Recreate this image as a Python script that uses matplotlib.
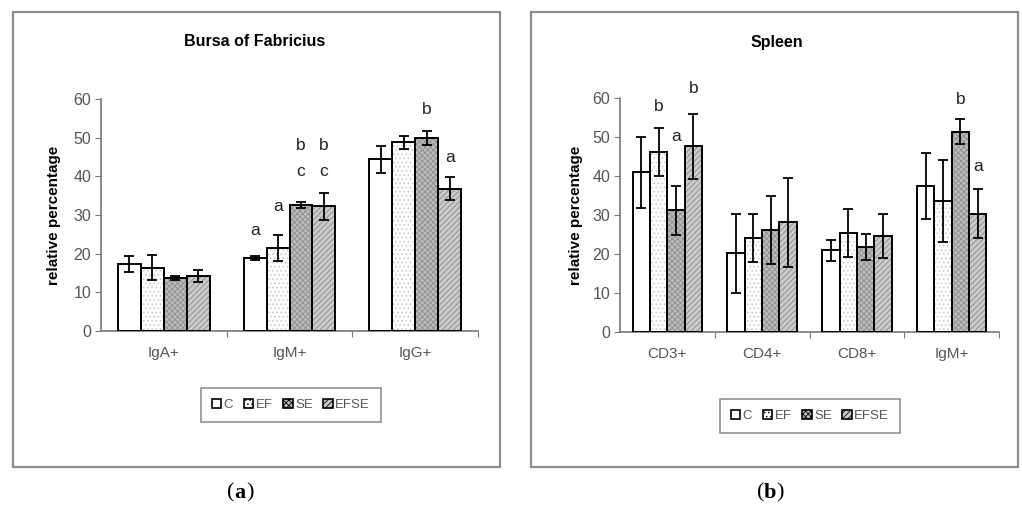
import matplotlib
matplotlib.use("Agg")
import matplotlib.pyplot as plt
import numpy as np
from matplotlib.patches import Rectangle, Patch

plt.rcParams["font.family"] = ["Liberation Sans", "DejaVu Sans"]
plt.rcParams["hatch.linewidth"] = 0.6

# ─────────────────────────────────────────────
# DATA
# ─────────────────────────────────────────────
groups = ["C", "EF", "SE", "EFSE"]

bursa_cats = ["IgA+", "IgM+", "IgG+"]
bursa_C    = [17.4, 18.9, 44.4]
bursa_EF   = [16.4, 21.5, 48.8]
bursa_SE   = [13.7, 32.5, 50.0]
bursa_EFSE = [14.2, 32.2, 36.8]
bursa_err_C    = [2.1, 0.5, 3.5]
bursa_err_EF   = [3.3, 3.4, 1.7]
bursa_err_SE   = [0.6, 0.8, 1.8]
bursa_err_EFSE = [1.5, 3.6, 2.9]
# (category index, group index, y, letter)
bursa_letters = [(1, 0, 26.1, "a"), (1, 1, 32.2, "a"),
                 (1, 2, 48.1, "b"), (1, 2, 41.2, "c"),
                 (1, 3, 48.1, "b"), (1, 3, 41.2, "c"),
                 (2, 2, 57.2, "b"), (2, 3, 44.9, "a")]

spleen_cats = ["CD3+", "CD4+", "CD8+", "IgM+"]
spleen_C    = [41.0, 20.2, 21.0, 37.4]
spleen_EF   = [46.2, 24.1, 25.4, 33.5]
spleen_SE   = [31.2, 26.1, 21.8, 51.4]
spleen_EFSE = [47.6, 28.1, 24.7, 30.3]
spleen_err_C    = [9.1, 10.1, 2.7, 8.5]
spleen_err_EF   = [6.1, 6.2, 6.1, 10.5]
spleen_err_SE   = [6.3, 8.7, 3.4, 3.2]
spleen_err_EFSE = [8.4, 11.4, 5.6, 6.3]
spleen_letters = [(0, 1, 57.9, "b"), (0, 2, 50.2, "a"), (0, 3, 62.4, "b"),
                  (3, 2, 59.6, "b"), (3, 3, 42.5, "a")]

# fill styles per group: face, hatch, hatch colour
styles = {
    "C":    ("white",   None,     "white"),
    "EF":   ("white",   "....",   "#c4c4c4"),
    "SE":   ("#bcbcbc", "xxxxxx", "#8e8e8e"),
    "EFSE": ("#cacaca", "//////", "#8a8a8a"),
}

fig = plt.figure(figsize=(10.22, 5.16), dpi=100)
W, H = 1022, 516

def fx(px):
    return px / W

def fy(py):
    return 1 - py / H

# panel frames
for x0, x1 in [(13, 500), (531, 1018)]:
    fig.patches.append(Rectangle((fx(x0), fy(467)), fx(x1 - x0), (467 - 12) / H,
                                 transform=fig.transFigure, fill=False,
                                 edgecolor="#8c8c8c", linewidth=1.6))


def draw_panel(ax, cats, values, errs, letters, ypad):
    n = len(cats)
    x = np.arange(n)
    w = 0.183
    for i, g in enumerate(groups):
        face, hatch, hcol = styles[g]
        pos = x + (i - 1.5) * w
        ax.bar(pos, values[i], w, color=face, hatch=hatch, edgecolor=hcol,
               linewidth=0, zorder=2)
        ax.bar(pos, values[i], w, fill=False, edgecolor="black",
               linewidth=1.4, zorder=3)
        ax.errorbar(pos, values[i], yerr=errs[i], fmt="none", ecolor="black",
                    elinewidth=1.3, capsize=3.8, capthick=1.3, zorder=4)
    for ci, gi, yv, txt in letters:
        ax.text(x[ci] + (gi - 1.5) * w, yv, txt, ha="center", va="center",
                fontsize=12.5, color="#222222", clip_on=False)

    ax.set_xlim(-0.5, n - 0.5)
    ax.set_ylim(0, 60)
    ax.set_yticks(range(0, 61, 10))
    ax.set_xticks(np.arange(n) + 0.5)
    ax.set_xticklabels([])
    ax.set_xticks(x, minor=True)
    ax.set_xticklabels(cats, minor=True)
    ax.tick_params(axis="x", which="minor", length=0, pad=11,
                   labelsize=11, labelcolor="#555555")
    ax.tick_params(axis="x", which="major", length=4, color="#777777")
    ax.tick_params(axis="y", length=4, color="#777777", labelsize=11.5,
                   labelcolor="#555555", pad=3)
    for s in ["top", "right"]:
        ax.spines[s].set_visible(False)
    for s in ["left", "bottom"]:
        ax.spines[s].set_color("#777777")
        ax.spines[s].set_linewidth(1.2)
    ax.set_ylabel("relative percentage", fontsize=11, fontweight="bold",
                  labelpad=ypad)


ax1 = fig.add_axes([fx(101), fy(331), fx(478 - 101), (331 - 99) / H])
draw_panel(ax1, bursa_cats,
           [bursa_C, bursa_EF, bursa_SE, bursa_EFSE],
           [bursa_err_C, bursa_err_EF, bursa_err_SE, bursa_err_EFSE],
           bursa_letters, 9)

ax2 = fig.add_axes([fx(620), fy(332), fx(999 - 620), (332 - 98) / H])
draw_panel(ax2, spleen_cats,
           [spleen_C, spleen_EF, spleen_SE, spleen_EFSE],
           [spleen_err_C, spleen_err_EF, spleen_err_SE, spleen_err_EFSE],
           spleen_letters, 7)

fig.text(fx(255), fy(42), "Bursa of Fabricius", ha="center", va="center",
         fontsize=11.5, fontweight="bold")
fig.text(fx(777), fy(42), "Spleen", ha="center", va="center",
         fontsize=11.5, fontweight="bold")

# legends
handles = []
for g in groups:
    face, hatch, hcol = styles[g]
    handles.append(Patch(facecolor=face, hatch=hatch, edgecolor="black",
                         linewidth=1.2))
for cx, cy in [(291, 405), (810, 416)]:
    leg = fig.legend(handles, groups, loc="center", ncol=4,
                     bbox_to_anchor=(fx(cx), fy(cy)), fontsize=9.5,
                     handlelength=0.7, handleheight=0.7, handletextpad=0.2,
                     columnspacing=0.8, fancybox=False, borderpad=0.8,
                     labelcolor="#555555")
    leg.get_frame().set_edgecolor("#777777")
    leg.get_frame().set_linewidth(1.2)

# panel captions (a) / (b)
for cx, lab in [(240, "a"), (770, "b")]:
    fig.text(fx(cx), fy(493), lab, ha="center", va="center", fontsize=16,
             fontweight="bold", family="Liberation Serif")
    fig.text(fx(cx - 6), fy(493), "(", ha="right", va="center", fontsize=16,
             family="Liberation Serif")
    fig.text(fx(cx + 6), fy(493), ")", ha="left", va="center", fontsize=16,
             family="Liberation Serif")

fig.savefig("out.png", dpi=100)
